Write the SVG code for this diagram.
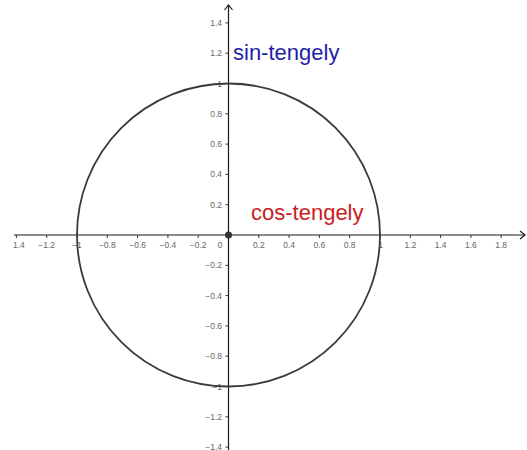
<svg xmlns="http://www.w3.org/2000/svg" width="527" height="450" viewBox="0 0 527 450">
<style>
.ax{stroke:#1a1a1a;stroke-width:1.2;fill:none}
.tk{stroke:#333;stroke-width:1}
.tl{font-family:"Liberation Sans",Arial,sans-serif;font-size:8.5px;fill:#666}
.xl{text-anchor:middle}
.yl{text-anchor:end}
.big{font-family:"Liberation Sans",Arial,sans-serif;font-size:22px}
</style>
<defs>
<clipPath id="cl"><rect x="13" y="0" width="514" height="450"/></clipPath>
</defs>
<rect width="527" height="450" fill="#fff"/>
<g id="axes">
<line class="ax" x1="14" y1="235" x2="525" y2="235"/>
<polyline class="ax" points="520,231 525,235 520,239"/>
<line class="ax" x1="228.5" y1="450" x2="228.5" y2="5"/>
<polyline class="ax" points="224.5,10 228.5,5 232.5,10"/>
</g>
<g id="xticks" class="tk">
<line x1="16.4" y1="235" x2="16.4" y2="238"/>
<line x1="46.7" y1="235" x2="46.7" y2="238"/>
<line x1="77" y1="235" x2="77" y2="238"/>
<line x1="107.3" y1="235" x2="107.3" y2="238"/>
<line x1="137.6" y1="235" x2="137.6" y2="238"/>
<line x1="167.9" y1="235" x2="167.9" y2="238"/>
<line x1="198.2" y1="235" x2="198.2" y2="238"/>
<line x1="258.8" y1="235" x2="258.8" y2="238"/>
<line x1="289.1" y1="235" x2="289.1" y2="238"/>
<line x1="319.4" y1="235" x2="319.4" y2="238"/>
<line x1="349.7" y1="235" x2="349.7" y2="238"/>
<line x1="380" y1="235" x2="380" y2="238"/>
<line x1="410.3" y1="235" x2="410.3" y2="238"/>
<line x1="440.6" y1="235" x2="440.6" y2="238"/>
<line x1="470.9" y1="235" x2="470.9" y2="238"/>
<line x1="501.2" y1="235" x2="501.2" y2="238"/>
</g>
<g id="yticks" class="tk">
<line x1="225.5" y1="22.9" x2="228.5" y2="22.9"/>
<line x1="225.5" y1="53.2" x2="228.5" y2="53.2"/>
<line x1="225.5" y1="83.5" x2="228.5" y2="83.5"/>
<line x1="225.5" y1="113.8" x2="228.5" y2="113.8"/>
<line x1="225.5" y1="144.1" x2="228.5" y2="144.1"/>
<line x1="225.5" y1="174.4" x2="228.5" y2="174.4"/>
<line x1="225.5" y1="204.7" x2="228.5" y2="204.7"/>
<line x1="225.5" y1="265.3" x2="228.5" y2="265.3"/>
<line x1="225.5" y1="295.6" x2="228.5" y2="295.6"/>
<line x1="225.5" y1="325.9" x2="228.5" y2="325.9"/>
<line x1="225.5" y1="356.2" x2="228.5" y2="356.2"/>
<line x1="225.5" y1="386.5" x2="228.5" y2="386.5"/>
<line x1="225.5" y1="416.8" x2="228.5" y2="416.8"/>
<line x1="225.5" y1="447.1" x2="228.5" y2="447.1"/>
</g>
<g id="xlabels" class="tl xl" clip-path="url(#cl)">
<text x="16.4" y="247.5">−1.4</text>
<text x="46.7" y="247.5">−1.2</text>
<text x="77" y="247.5">−1</text>
<text x="107.3" y="247.5">−0.8</text>
<text x="137.6" y="247.5">−0.6</text>
<text x="167.9" y="247.5">−0.4</text>
<text x="198.2" y="247.5">−0.2</text>
<text x="220" y="247.5">0</text>
<text x="258.8" y="247.5">0.2</text>
<text x="289.1" y="247.5">0.4</text>
<text x="319.4" y="247.5">0.6</text>
<text x="349.7" y="247.5">0.8</text>
<text x="380.5" y="247.5">1</text>
<text x="410.3" y="247.5">1.2</text>
<text x="440.6" y="247.5">1.4</text>
<text x="470.9" y="247.5">1.6</text>
<text x="501.2" y="247.5">1.8</text>
</g>
<g id="ylabels" class="tl yl">
<text x="222" y="25.9">1.4</text>
<text x="222" y="56.2">1.2</text>
<text x="222" y="86.5">1</text>
<text x="222" y="116.8">0.8</text>
<text x="222" y="147.1">0.6</text>
<text x="222" y="177.4">0.4</text>
<text x="222" y="207.7">0.2</text>
<text x="222" y="268.3">−0.2</text>
<text x="222" y="298.6">−0.4</text>
<text x="222" y="328.9">−0.6</text>
<text x="222" y="359.2">−0.8</text>
<text x="222" y="389.5">−1</text>
<text x="222" y="419.8">−1.2</text>
<text x="222" y="450.1">−1.4</text>
</g>
<g id="unit-circle">
<circle cx="228.5" cy="235" r="151.5" fill="none" stroke="#3a3a3a" stroke-width="1.8"/>
</g>
<g id="origin">
<circle cx="228.5" cy="235" r="3.5" fill="#333"/>
</g>
<g id="sin-label">
<text class="big" x="233" y="60" fill="#1f1fa8">sin-tengely</text>
</g>
<g id="cos-label">
<text class="big" x="251" y="220" fill="#c81e1e">cos-tengely</text>
</g>
</svg>
